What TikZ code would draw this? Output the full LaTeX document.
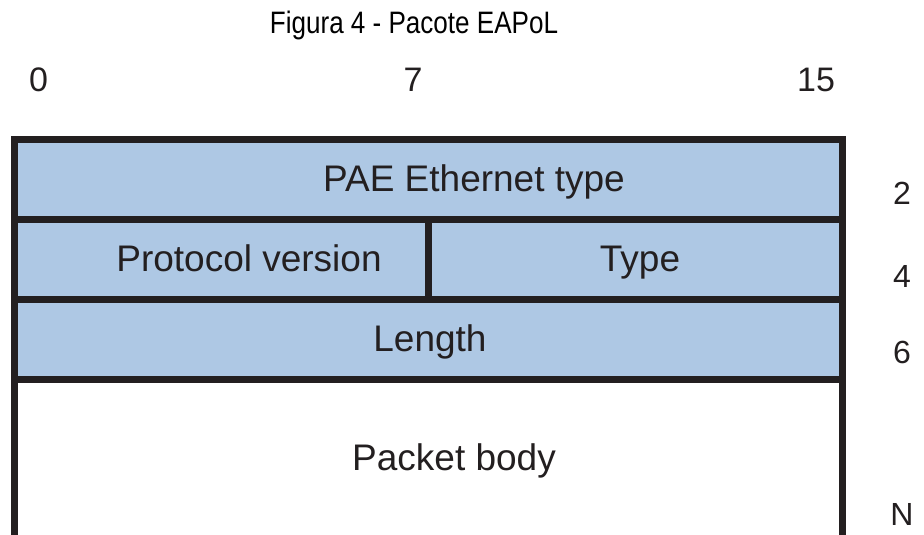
\documentclass[tikz,border=0pt]{standalone}
\usepackage{fontspec}
\setmainfont{Liberation Sans}
\usetikzlibrary{positioning}
\definecolor{eapolblue}{RGB}{174,200,228}
\definecolor{framegray}{RGB}{35,31,32}

\begin{document}
\begin{tikzpicture}[
x=1pt,
y=-1pt,
field/.style={
  draw=framegray,
  fill=eapolblue,
  line width=7pt,
  inner sep=0pt,
  outer sep=0pt,
  minimum height=80pt
  },
frame/.style={
  draw=framegray,
  line width=7pt
  },
lbl/.style={
  font=\fontsize{37}{41}\selectfont,
  text=framegray,
  inner sep=0pt,
  anchor=base
  },
bit/.style={
  font=\fontsize{34}{38}\selectfont,
  text=framegray,
  inner sep=0pt,
  anchor=base
  },
byte/.style={
  font=\fontsize{32}{36}\selectfont,
  text=framegray,
  inner sep=0pt,
  anchor=base
  }
]
\useasboundingbox (0,0) rectangle (924,535);

% title and bit numbers
\node[lbl, font=\fontsize{31}{35}\selectfont, text=black] (title) at (414,34)
  {\scalebox{.84}[1]{Figura 4 - Pacote EAPoL}};
\node[bit] (bit0) at (38.5,92) {0};
\node[bit] (bit7) at (413,92) {7};
\node[bit] (bit15) at (816,92) {15};

% header fields
\node[field, minimum width=828pt] (pae) at (428,179) {};
\node[field, minimum width=414pt] (proto) at (221,259) {};
\node[field, minimum width=414pt] (type) at (635,259) {};
\node[field, minimum width=828pt] (length) at (428,339) {};

% packet body, open at the bottom
\coordinate (bodySW) at (14,545);
\coordinate (bodySE) at (842,545);
\draw[frame] (length.south west) -- (bodySW);
\draw[frame] (length.south east) -- (bodySE);

\node[lbl] (paeText) at (474,191) {PAE Ethernet type};
\node[lbl] (protoText) at (249,271) {Protocol version};
\node[lbl] (typeText) at (640,271) {Type};
\node[lbl] (lengthText) at (430,351) {Length};
\node[lbl] (bodyText) at (454,470) {Packet body};

% byte offsets
\node[byte] (byte2) at (902,204) {2};
\node[byte] (byte4) at (902,287) {4};
\node[byte] (byte6) at (902,363) {6};
\node[byte] (byteN) at (902,525) {N};
\end{tikzpicture}
\end{document}
